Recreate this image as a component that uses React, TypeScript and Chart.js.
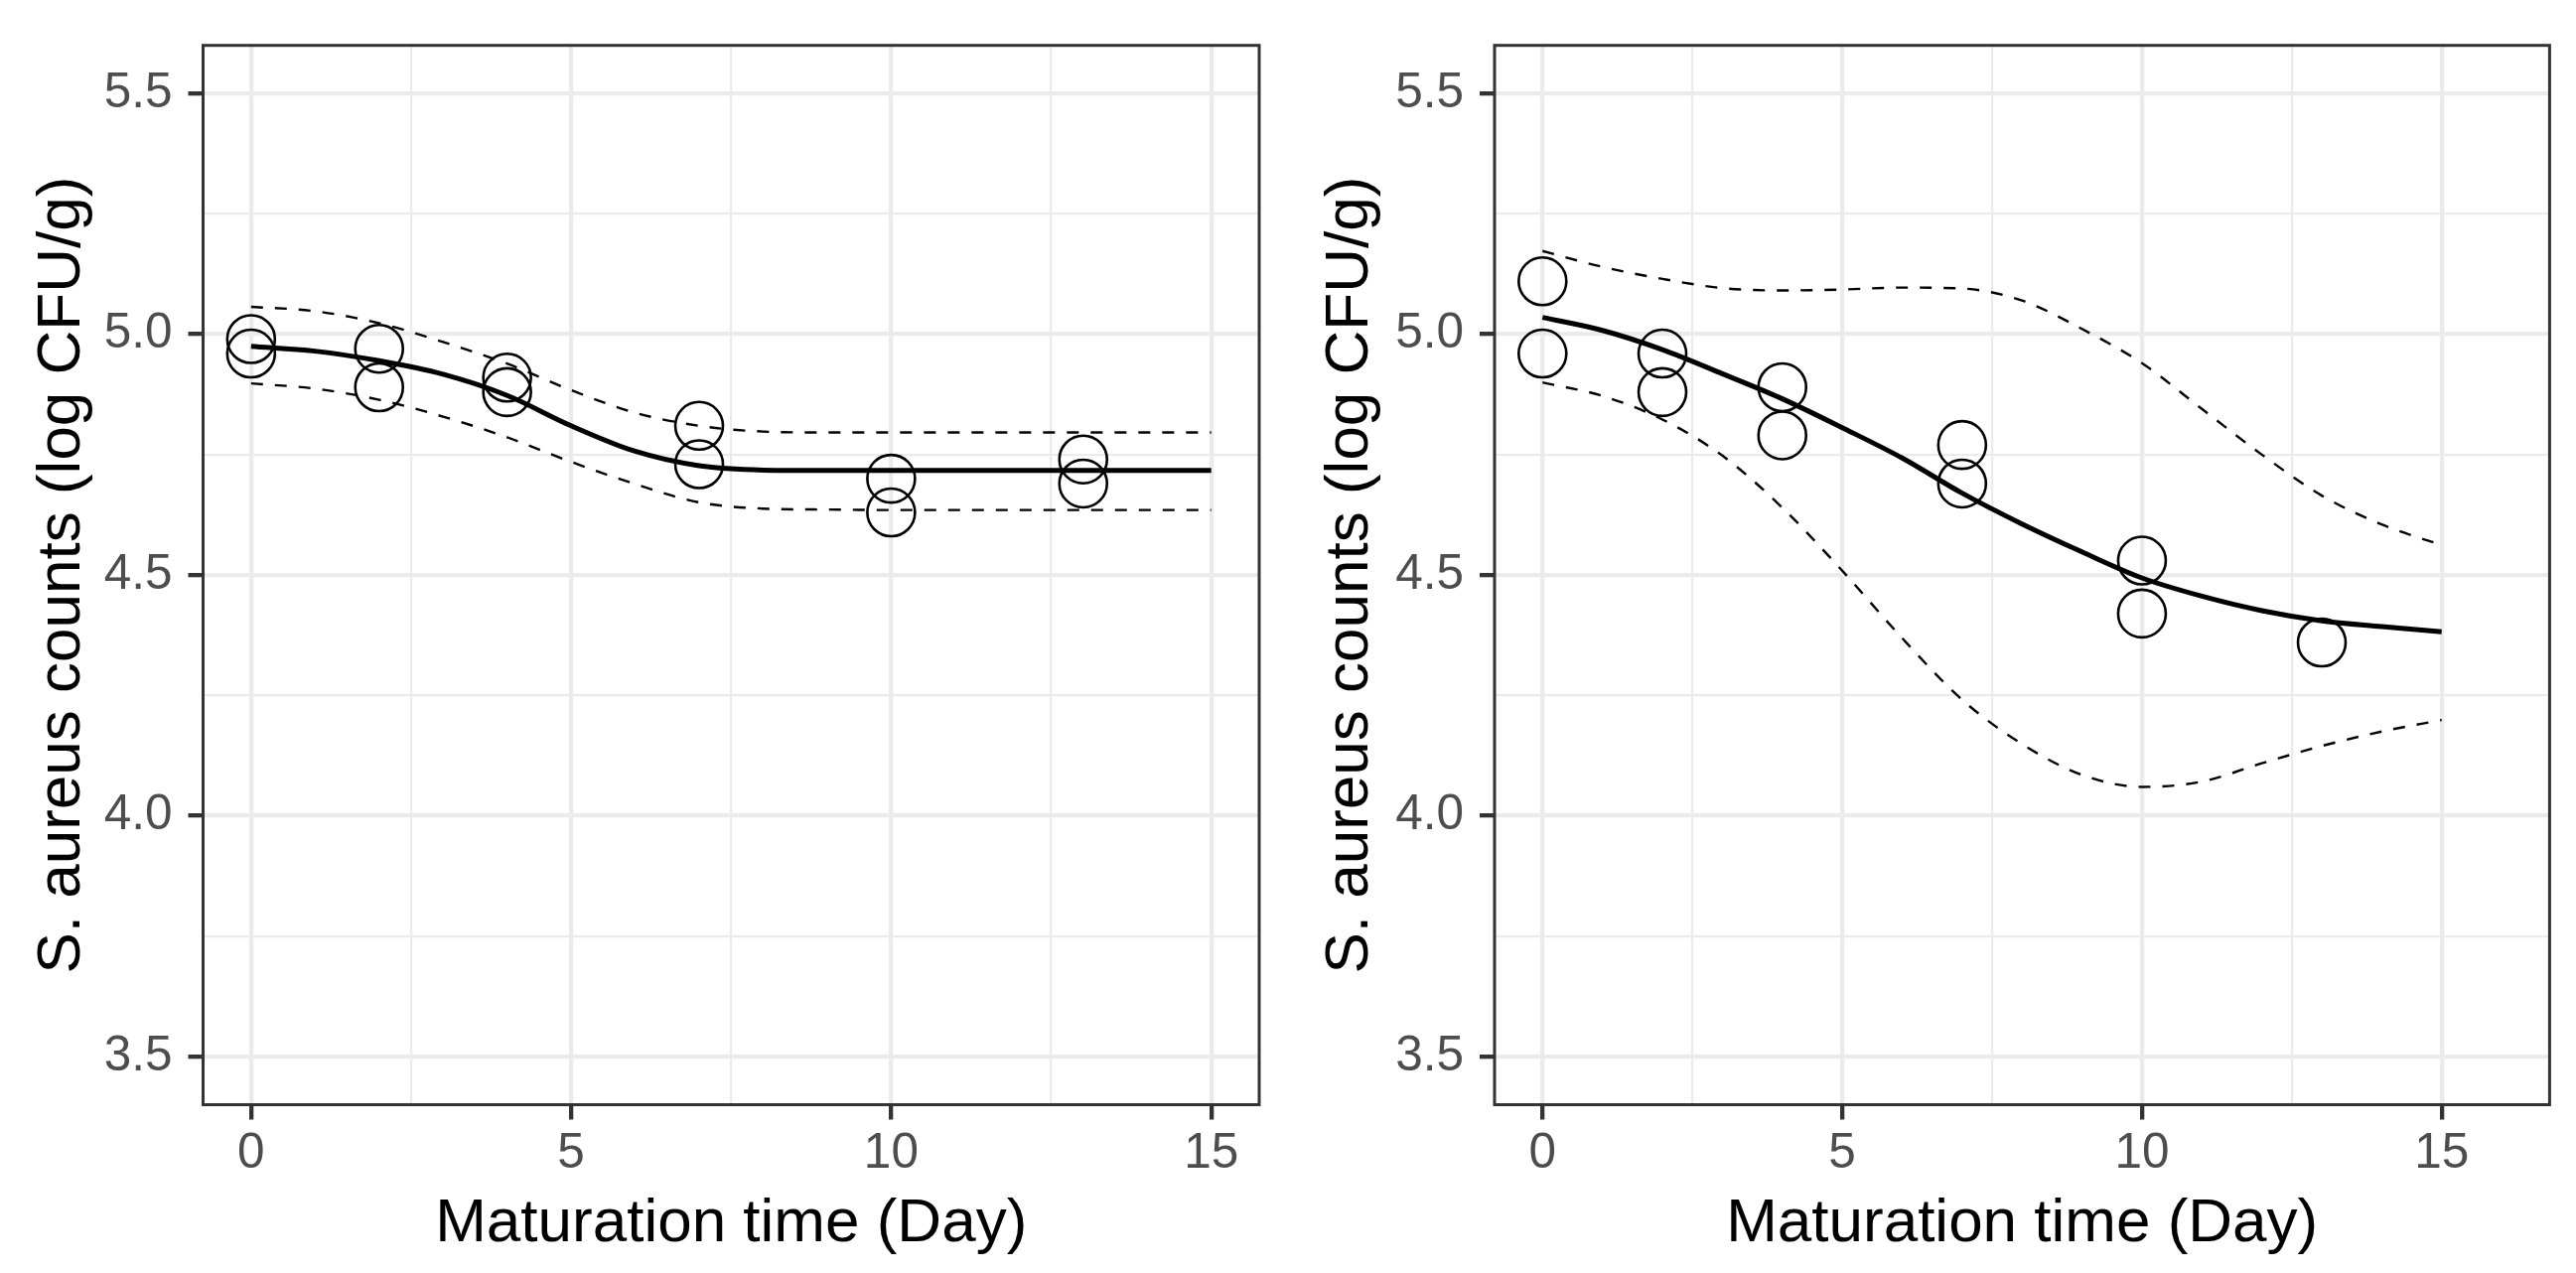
import React, { useEffect, useRef } from "react";
import { Chart, registerables } from "chart.js";

Chart.register(...registerables);

// ---------- data ----------
const fitDays = [0, 1, 2, 3, 4, 5, 6, 7, 8, 9, 10, 11, 12, 13, 14, 15];

const leftFit = [4.975, 4.965, 4.945, 4.917, 4.873, 4.81, 4.757, 4.727, 4.718, 4.717, 4.717, 4.717, 4.717, 4.717, 4.717, 4.717];
const leftUpper = [5.057, 5.048, 5.023, 4.984, 4.939, 4.884, 4.837, 4.81, 4.798, 4.796, 4.796, 4.796, 4.796, 4.796, 4.796, 4.796];
const leftLower = [4.898, 4.887, 4.864, 4.829, 4.786, 4.735, 4.689, 4.651, 4.638, 4.636, 4.635, 4.635, 4.635, 4.635, 4.635, 4.635];
const leftObsDays = [0, 0, 2, 2, 4, 4, 7, 7, 10, 10, 13, 13];
const leftObs = [4.99, 4.96, 4.97, 4.89, 4.91, 4.88, 4.81, 4.73, 4.7, 4.63, 4.74, 4.69];

const rightFit = [5.035, 5.008, 4.968, 4.918, 4.866, 4.806, 4.743, 4.67, 4.606, 4.548, 4.494, 4.456, 4.426, 4.405, 4.393, 4.382];
const rightUpper = [5.173, 5.14, 5.115, 5.096, 5.091, 5.093, 5.097, 5.095, 5.07, 5.011, 4.94, 4.845, 4.75, 4.665, 4.605, 4.562];
const rightLower = [4.9, 4.872, 4.823, 4.748, 4.64, 4.509, 4.369, 4.241, 4.149, 4.085, 4.06, 4.071, 4.109, 4.145, 4.175, 4.199];
const rightObsDays = [0, 0, 2, 2, 4, 4, 7, 7, 10, 10, 13];
const rightObs = [5.11, 4.96, 4.96, 4.88, 4.89, 4.79, 4.77, 4.69, 4.53, 4.42, 4.36];

const xTickValues = [0, 2.5, 5, 7.5, 10, 12.5, 15];
const yTickValues = [3.5, 3.75, 4.0, 4.25, 4.5, 4.75, 5.0, 5.25, 5.5];
const xTitle = "Maturation time (Day)";
const yTitle = "S. aureus counts (log CFU/g)";

// ---------- styling ----------
const FONT = "'Liberation Sans', Arial, Helvetica, sans-serif";
const W = 1297;
const H = 1282;

const isMajorX = (v: number) => Math.abs(v / 5 - Math.round(v / 5)) < 1e-6;
const isMajorY = (v: number) => Math.abs(v * 2 - Math.round(v * 2)) < 1e-6;

const borderPlugin = {
  id: "panelBorder",
  afterDatasetsDraw(chart: any) {
    const { ctx, chartArea } = chart;
    const { left, top, right, bottom } = chartArea;
    ctx.save();
    ctx.strokeStyle = "#333333";
    ctx.lineWidth = 3;
    ctx.strokeRect(left, top, right - left, bottom - top);
    ctx.restore();
  },
};

type PanelCfg = {
  fit: number[];
  upper: number[];
  lower: number[];
  obsDays: number[];
  obs: number[];
  xMin: number;
  xMax: number;
  areaLeft: number;
  areaRight: number;
};

function toXY(xs: number[], ys: number[]) {
  return xs.map((x, i) => ({ x, y: ys[i] }));
}

function Panel({ cfg }: { cfg: PanelCfg }) {
  const ref = useRef<HTMLCanvasElement | null>(null);
  useEffect(() => {
    if (!ref.current) return;
    const lineBase = {
      showLine: true,
      pointRadius: 0,
      pointHoverRadius: 0,
      borderColor: "#000000",
      fill: false,
      cubicInterpolationMode: "monotone" as const,
    };
    const chart = new Chart(ref.current, {
      type: "scatter",
      data: {
        datasets: [
          { ...lineBase, data: toXY(fitDays, cfg.fit), borderWidth: 5 },
          { ...lineBase, data: toXY(fitDays, cfg.upper), borderWidth: 2.4, borderDash: [12, 12] },
          { ...lineBase, data: toXY(fitDays, cfg.lower), borderWidth: 2.4, borderDash: [12, 12] },
          {
            data: toXY(cfg.obsDays, cfg.obs),
            showLine: false,
            pointStyle: "circle",
            pointRadius: 24,
            pointHoverRadius: 24,
            pointBorderWidth: 2.6,
            pointBorderColor: "#000000",
            pointBackgroundColor: "rgba(0,0,0,0)",
          },
        ] as any,
      },
      options: {
        animation: false,
        responsive: false,
        events: [],
        layout: {
          padding: { left: 0, right: W - cfg.areaRight, top: 25.5, bottom: 0 },
        },
        plugins: {
          legend: { display: false },
          tooltip: { enabled: false },
        },
        scales: {
          x: {
            type: "linear",
            min: cfg.xMin,
            max: cfg.xMax,
            afterBuildTicks: (scale: any) => {
              scale.ticks = xTickValues.map((v) => ({ value: v }));
            },
            afterFit: (scale: any) => {
              scale.height = H - 1112.5;
            },
            border: { display: false },
            grid: {
              color: "#EBEBEB",
              lineWidth: (c: any) => (c.tick && isMajorX(c.tick.value) ? 4.3 : 2.2),
              tickColor: (c: any) => (c.tick && isMajorX(c.tick.value) ? "#333333" : "rgba(0,0,0,0)"),
              tickWidth: 4.3,
              tickLength: 15,
            },
            ticks: {
              autoSkip: false,
              maxRotation: 0,
              padding: 5,
              color: "#4D4D4D",
              font: { family: FONT, size: 49.5 },
              callback: (v: any) => (isMajorX(Number(v)) ? String(Number(v)) : ""),
            },
            title: {
              display: true,
              text: xTitle,
              color: "#000000",
              font: { family: FONT, size: 62 },
              padding: { top: 0, bottom: 12 },
            },
          },
          y: {
            type: "linear",
            min: 3.4,
            max: 5.6,
            afterBuildTicks: (scale: any) => {
              scale.ticks = yTickValues.map((v) => ({ value: v }));
            },
            afterFit: (scale: any) => {
              scale.width = cfg.areaLeft;
            },
            border: { display: false },
            grid: {
              color: "#EBEBEB",
              lineWidth: (c: any) => (c.tick && isMajorY(c.tick.value) ? 4.3 : 2.2),
              tickColor: (c: any) => (c.tick && isMajorY(c.tick.value) ? "#333333" : "rgba(0,0,0,0)"),
              tickWidth: 4.3,
              tickLength: 15,
            },
            ticks: {
              autoSkip: false,
              padding: 16,
              color: "#4D4D4D",
              font: { family: FONT, size: 49.5 },
              callback: (v: any) => (isMajorY(Number(v)) ? Number(v).toFixed(1) : ""),
            },
            title: {
              display: true,
              text: yTitle,
              color: "#000000",
              font: { family: FONT, size: 62 },
              padding: { top: 26, bottom: 0 },
            },
          },
        },
      } as any,
      plugins: [borderPlugin],
    });
    return () => chart.destroy();
  }, [cfg]);
  return <canvas ref={ref} width={W} height={H} style={{ display: "block", width: W, height: H }} />;
}

const leftCfg: PanelCfg = {
  fit: leftFit,
  upper: leftUpper,
  lower: leftLower,
  obsDays: leftObsDays,
  obs: leftObs,
  xMin: -0.75,
  xMax: 15.75,
  areaLeft: 204.5,
  areaRight: 1268,
};

const rightCfg: PanelCfg = {
  fit: rightFit,
  upper: rightUpper,
  lower: rightLower,
  obsDays: rightObsDays,
  obs: rightObs,
  xMin: -0.8,
  xMax: 16.8,
  areaLeft: 208,
  areaRight: 1271,
};

export default function App() {
  useEffect(() => {
    document.body.style.overflow = "hidden";
  }, []);
  return (
    <div
      style={{
        position: "absolute",
        top: 0,
        left: 0,
        width: 2 * W,
        height: H,
        display: "flex",
        background: "#FFFFFF",
      }}
    >
      <Panel cfg={leftCfg} />
      <Panel cfg={rightCfg} />
    </div>
  );
}
